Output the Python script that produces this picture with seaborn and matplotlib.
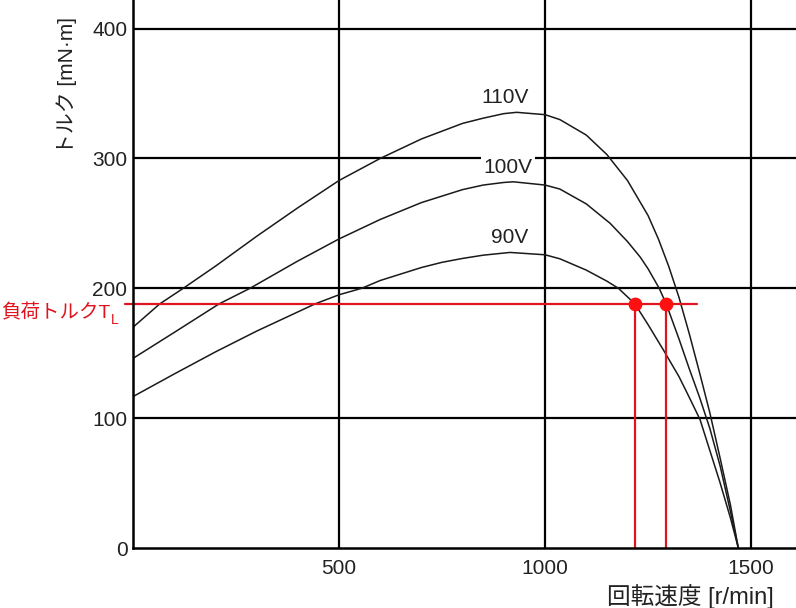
import pandas as pd
import seaborn as sns
import matplotlib.pyplot as plt

# curves: speed [r/min] -> torque [mN·m]
speed_110 = [0, 65, 122, 200, 300, 400, 500, 600, 700, 750, 800, 850, 900, 931, 1000, 1036,
             1100, 1150, 1200, 1250, 1275, 1300, 1325, 1350, 1375, 1400, 1425, 1450, 1469]
torque_110 = [170, 188, 200, 217, 240, 262, 283, 300, 315, 321, 327, 331, 334.5, 335.5, 333.7, 329.9,
              318, 303, 283, 256, 238, 217, 193, 165, 135, 104, 69, 33, 0]

speed_100 = [0, 100, 209, 284, 400, 500, 600, 700, 750, 800, 850, 900, 923, 1000, 1036, 1100,
             1158, 1200, 1231, 1250, 1277, 1294, 1325, 1350, 1375, 1400, 1425, 1450, 1469]
torque_100 = [146, 166, 188, 200, 221, 238, 253, 266, 271, 276, 279.5, 281.5, 282, 279.5, 276.4, 265,
              250, 236, 224, 215, 200, 188, 161, 138, 116, 92, 63, 28, 0]

speed_90 = [0, 100, 200, 300, 442, 500, 555, 600, 700, 750, 800, 850, 915, 1000, 1036, 1100,
            1150, 1178, 1218, 1250, 1287, 1325, 1350, 1376, 1400, 1425, 1450, 1469]
torque_90 = [116.6, 134, 151, 167, 188, 195, 200, 206, 216, 220, 223, 225.5, 227.6, 225.8, 222.7, 214,
             205.5, 200, 188, 172, 152.6, 132, 116, 99, 75, 50, 23, 0]

voltages = ["110V", "100V", "90V"]
label_pos = [(903, 347), (910, 293), (915, 239)]

load_torque = 188
op_speeds = [1218, 1294]
load_line_end = 1369

d = pd.concat([
    pd.DataFrame({"speed": speed_110, "torque": torque_110, "volt": "110V"}),
    pd.DataFrame({"speed": speed_100, "torque": torque_100, "volt": "100V"}),
    pd.DataFrame({"speed": speed_90, "torque": torque_90, "volt": "90V"}),
])

sns.set_style("white")
plt.rcParams['font.family'] = ['Liberation Sans', 'Noto Sans CJK JP', 'DejaVu Sans']

fig = plt.figure(figsize=(7.96, 6.08), dpi=100)
ax = fig.add_axes([133 / 796, 60 / 608, 663 / 796, 548 / 608])

# grid first
for gx in [500, 1000, 1500]:
    ax.axvline(gx, color="black", lw=1.6, zorder=1)
for gy in [100, 200, 300, 400]:
    ax.axhline(gy, color="black", lw=1.6, zorder=1)

sns.lineplot(data=d, x="speed", y="torque", hue="volt", units="volt", estimator=None,
             palette={v: "#1a1a1a" for v in voltages}, lw=1.1, legend=False, sort=False,
             ax=ax, zorder=3)

for v, (lx, ly) in zip(voltages, label_pos):
    ax.text(lx, ly, v, fontsize=15, ha="center", va="center", color="#222222",
            bbox=dict(facecolor="white", edgecolor="none", pad=1.5), zorder=4)

# load torque
red = "#e0141e"
ax.plot([-20, load_line_end], [load_torque, load_torque], color=red, lw=1.6,
        clip_on=False, zorder=5)
for s in op_speeds:
    ax.plot([s, s], [0, load_torque], color=red, lw=1.6, zorder=5)
ax.scatter(op_speeds, [load_torque] * len(op_speeds), s=80, color="#ff1010", zorder=6)
fig.text(110 / 796, 1 - 313 / 608, "負荷トルクT", color=red, fontsize=14,
         ha="right", va="center")
fig.text(111 / 796, 1 - 324 / 608, "L", color=red, fontsize=10, ha="left", va="baseline")

ax.set_xlim(0, 1609)
ax.set_ylim(0, 422)
ax.set_xticks([500, 1000, 1500])
ax.set_yticks([0, 100, 200, 300, 400])
ax.tick_params(length=0, labelsize=15, colors="#222222")
ax.tick_params(axis="x", pad=8)
ax.tick_params(axis="y", pad=4)

sns.despine(ax=ax)
for sp in ["left", "bottom"]:
    ax.spines[sp].set_linewidth(1.8)
    ax.spines[sp].set_color("black")
    ax.spines[sp].set_zorder(7)

ax.set_xlabel("")
ax.set_ylabel("")
fig.text(67 / 796, 1 - 85 / 608, "トルク [mN·m]", rotation=90, fontsize=15,
         ha="center", va="center", color="#222222")
fig.text(774 / 796, 1 - 597 / 608, "回転速度 [r/min]", fontsize=17,
         ha="right", va="center", color="#222222")

plt.savefig("out.png", dpi=100)
